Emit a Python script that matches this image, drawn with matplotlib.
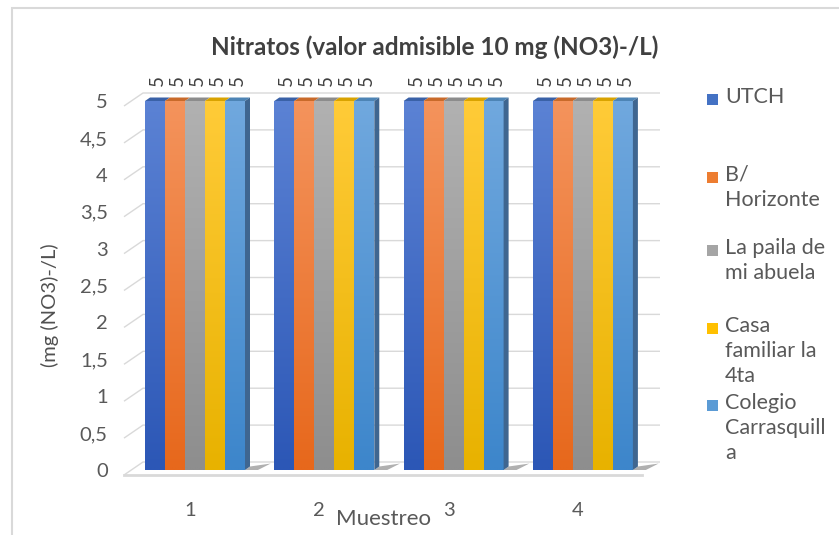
import matplotlib.pyplot as plt
import numpy as np
from matplotlib.patches import Polygon, Rectangle
from matplotlib.transforms import ScaledTranslation
from matplotlib.colors import to_rgb

plt.rcParams['font.family'] = ['Lato', 'DejaVu Sans']

# datos
muestreo = [1, 2, 3, 4]
sitios = ["UTCH", "B/ Horizonte", "La paila de mi abuela",
          "Casa familiar la 4ta", "Colegio Carrasquilla"]
leyenda = ["UTCH", "B/\nHorizonte", "La paila de\nmi abuela",
           "Casa\nfamiliar la\n4ta", "Colegio\nCarrasquill\na"]
utch = [5, 5, 5, 5]
horizonte = [5, 5, 5, 5]
paila = [5, 5, 5, 5]
casa = [5, 5, 5, 5]
colegio = [5, 5, 5, 5]
series = [utch, horizonte, paila, casa, colegio]
yticks = np.arange(0, 5.01, 0.5)

# colores (arriba, abajo, leyenda)
col_top = ['#5b82d4', '#f4935c', '#b1b1b1', '#ffcb38', '#70a8de']
col_bot = ['#2c57b6', '#e7681c', '#8e8e8e', '#e8b200', '#3d86cb']
col_leg = ['#4472c4', '#ed7d31', '#a5a5a5', '#ffc000', '#5b9bd5']
gris = '#595959'

W, H = 839, 535
fig = plt.figure(figsize=(W / 100, H / 100), dpi=100)


def fx(px):
    return px / W


def fy(py):
    return 1 - py / H


# escala de pixeles -> datos
sx, x0px = 129.3, 195
sy, y0px = 73.8, 470
ax = fig.add_axes([fx(112), fy(480), fx(680) - fx(112), fy(80) - fy(480)])
xlim = (1 + (112 - x0px) / sx, 1 + (680 - x0px) / sx)
ylim = ((y0px - 480) / sy, (y0px - 80) / sy)

w = 20 / sx          # ancho de barra
ddx, ddy = 5 / sx, 3.5 / sy      # profundidad de barra
wf, wb = -5 / sy, 8 / sy         # frente y fondo de la pared
xl_f, xl_b = 1 + (124 - x0px) / sx, 1 + (143 - x0px) / sx
xr_b = 1 + (660 - x0px) / sx
xr_f = 1 + (642 - x0px) / sx

# cuadricula de la pared
for v in yticks:
    ax.plot([xl_f, xl_b, xr_b], [v + wf, v + wb, v + wb],
            color='#d9d9d9', lw=1, zorder=1, solid_capstyle='butt')
# borde frontal del piso
ax.plot([xl_f, xr_f], [wf, wf], color='#d9d9d9', lw=2, zorder=1)

x = np.array(muestreo, dtype=float)
n = len(series)
for i, vals in enumerate(series):
    xs = x - n * w / 2 + i * w + w / 2
    bars = ax.bar(xs, vals, width=w, color=col_leg[i], lw=0, zorder=3)
    grad = np.linspace(to_rgb(col_top[i]), to_rgb(col_bot[i]), 64)[:, None, :]
    for b, v in zip(bars, vals):
        bx = b.get_x()
        im = ax.imshow(grad, extent=[bx, bx + w, 0, v], aspect='auto',
                       zorder=4, interpolation='bilinear')
        im.set_clip_path(b)
        top = Polygon([(bx, v), (bx + w, v), (bx + w + ddx, v + ddy),
                       (bx + ddx, v + ddy)], closed=True,
                      facecolor=np.array(to_rgb(col_leg[i])) * 0.85, lw=0, zorder=5)
        ax.add_patch(top)
        if i == n - 1:
            side = Polygon([(bx + w, 0), (bx + w + ddx, ddy),
                            (bx + w + ddx, v + ddy), (bx + w, v)], closed=True,
                           facecolor='#3f6690', lw=0, zorder=5)
            ax.add_patch(side)
            sombra = Polygon([(bx + w, 0), (bx + w + ddx, ddy),
                              (bx + w + ddx + 0.16, ddy + 0.04), (bx + w + 0.1, 0)],
                             closed=True, facecolor='#6f6f6f', alpha=0.55,
                             lw=0, zorder=2)
            ax.add_patch(sombra)
        ax.annotate(f"{v:g}", xy=(bx + w / 2 + ddx / 2, v + ddy),
                    xytext=(0, 8), textcoords='offset points', rotation=90,
                    ha='center', va='bottom', fontsize=13.5, color='#404040', zorder=6)

ax.set_xlim(*xlim)
ax.set_ylim(*ylim)
ax.set_yticks(yticks)
ax.set_yticklabels([f"{t:g}".replace('.', ',') for t in yticks])
ax.set_xticks(x)
ax.set_xticklabels([str(m) for m in muestreo])
ax.tick_params(axis='both', length=0, labelsize=14.5, labelcolor=gris)
ax.tick_params(axis='x', pad=16)
ax.tick_params(axis='y', pad=3)
for lab in ax.get_xticklabels():
    lab.set_transform(lab.get_transform() + ScaledTranslation(-5 / 100, 0, fig.dpi_scale_trans))
for s in ax.spines.values():
    s.set_visible(False)
ax.patch.set_alpha(0)

fig.text(fx(435), fy(47), "Nitratos (valor admisible 10 mg (NO3)-/L)",
         ha='center', va='center', fontsize=17.5, fontweight='bold', color='#404040')
fig.text(fx(50), fy(305), "(mg (NO3)-/L)", rotation=90, ha='center',
         va='center', fontsize=14.5, color='#505050')
fig.text(fx(383), fy(519), "Muestreo", ha='center', va='center',
         fontsize=16, color=gris)

# leyenda
ley_y = [99, 177, 250, 328, 405]
for lab, c, py in zip(leyenda, col_leg, ley_y):
    fig.patches.append(Rectangle((fx(707), fy(py + 6)), 11 / W, 11 / H,
                                 transform=fig.transFigure, facecolor=c, lw=0))
    fig.text(fx(725), fy(py - 12), lab, ha='left', va='top', fontsize=15.5,
             color=gris, linespacing=1.3)

# marco
fig.patches.append(Rectangle((fx(12), -0.05), 1.1, fy(8) + 0.05,
                             transform=fig.transFigure, fill=False,
                             edgecolor='#d9d9d9', lw=1.5))

fig.savefig('out.png', dpi=100)
